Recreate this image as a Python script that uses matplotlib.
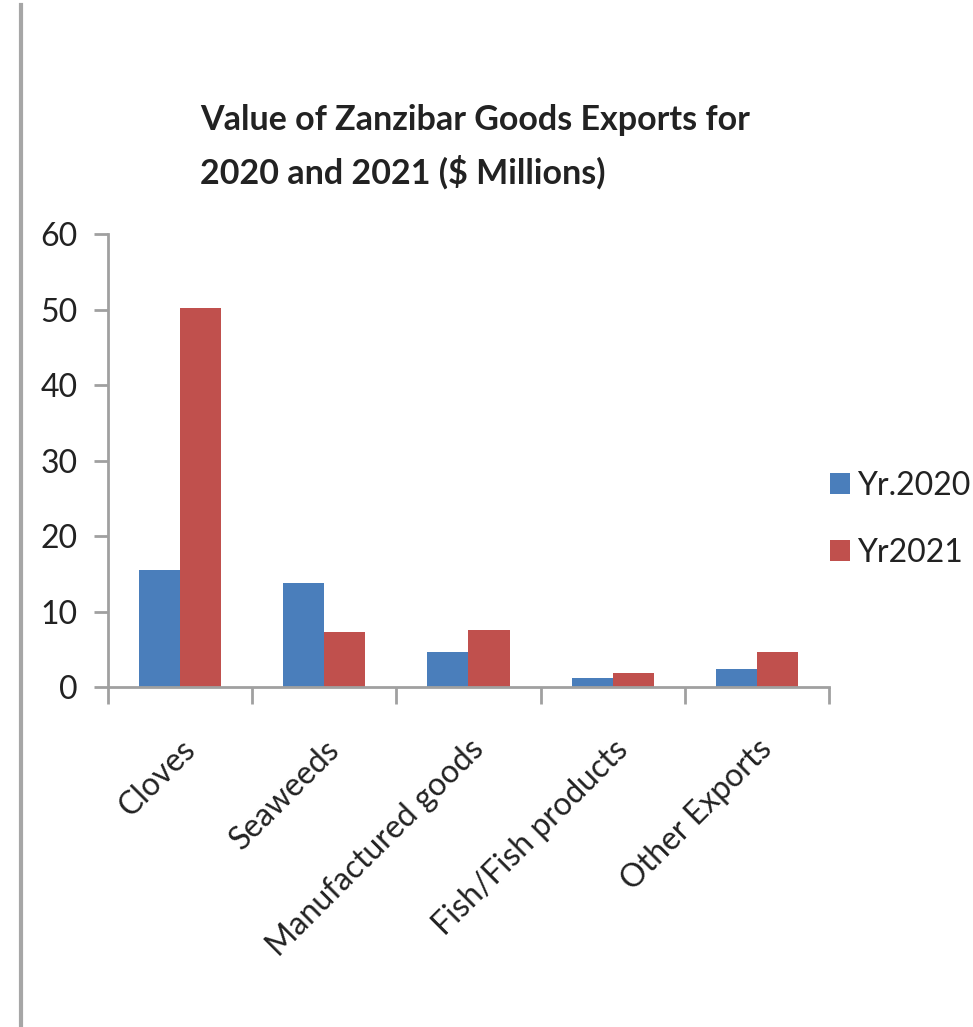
import numpy as np
import matplotlib
matplotlib.use("Agg")
import matplotlib.pyplot as plt
from matplotlib.lines import Line2D

plt.rcParams['font.family'] = ['Lato', 'DejaVu Sans']

categories = ["Cloves", "Seaweeds", "Manufactured goods", "Fish/Fish products", "Other Exports"]
yr2020 = [15.5, 13.8, 4.6, 1.2, 2.4]
yr2021 = [50.2, 7.3, 7.6, 1.9, 4.7]

fig = plt.figure(figsize=(9.73, 10.27), dpi=100)
ax = fig.add_axes([0.111, 0.331, 0.741, 0.441])

x = np.arange(len(categories))
w = 0.285
ax.bar(x - w / 2, yr2020, w, color="#4a7ebb", label="Yr.2020")
ax.bar(x + w / 2, yr2021, w, color="#c0504d", label="Yr2021")

ax.set_xlim(-0.5, len(categories) - 0.5)
ax.set_ylim(0, 60)
ax.set_yticks(range(0, 61, 10))
ax.set_xticks(np.arange(len(categories) + 1) - 0.5, minor=True)
ax.set_xticks(x)
ax.set_xticklabels(categories, rotation=45, ha="right", rotation_mode="anchor")

grey = "#a0a0a0"
for s in ["top", "right"]:
    ax.spines[s].set_visible(False)
for s in ["left", "bottom"]:
    ax.spines[s].set_color(grey)
    ax.spines[s].set_linewidth(2)
ax.tick_params(axis="y", length=10, width=2, color=grey, labelsize=23, labelcolor="#222222", pad=12)
ax.tick_params(axis="x", which="major", length=0, labelsize=23, labelcolor="#222222", pad=34)
ax.tick_params(axis="x", which="minor", length=12, width=2, color=grey)

fig.text(200 / 973, 1 - 120 / 1027, "Value of Zanzibar Goods Exports for", fontsize=24.5,
         fontweight="bold", ha="left", va="center", color="#222222")
fig.text(200 / 973, 1 - 172 / 1027, "2020 and 2021 ($ Millions)", fontsize=24.5,
         fontweight="bold", ha="left", va="center", color="#222222")

ax.legend(loc="center left", bbox_to_anchor=(1.0014, 0.37), frameon=False, fontsize=23,
          borderpad=0, borderaxespad=0,
          handlelength=0.63, handleheight=0.63, handletextpad=0.22, labelspacing=1.15,
          labelcolor="#222222")

fig.add_artist(Line2D([21 / 973, 21 / 973], [0, 1 - 5 / 1027], transform=fig.transFigure,
                      color="#a6a6a6", linewidth=3))

fig.savefig("out.png", dpi=100, facecolor="white")
